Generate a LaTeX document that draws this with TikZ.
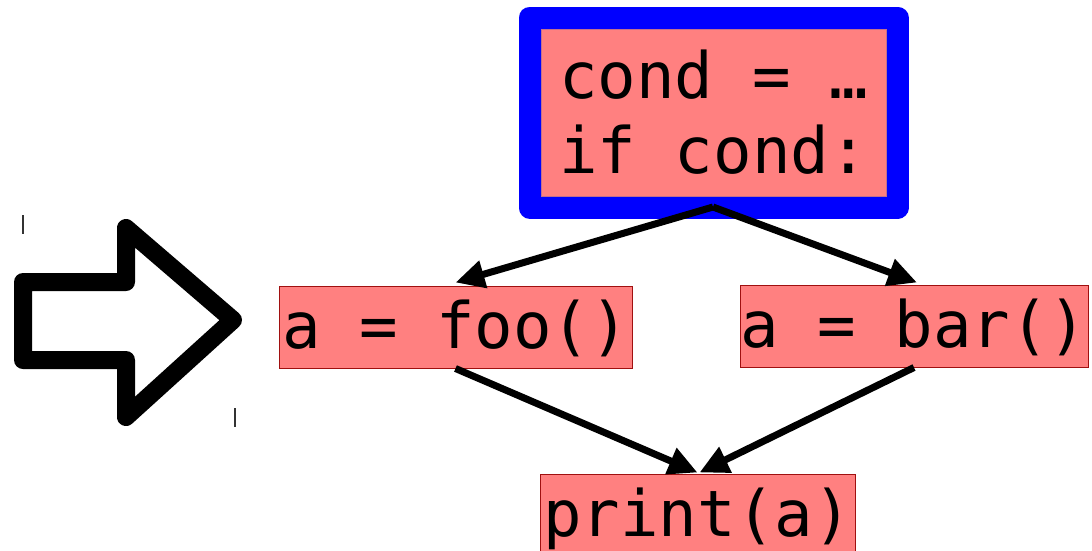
\documentclass[tikz,border=0pt]{standalone}
\usepackage{fontspec}
\newfontfamily\codefont{DejaVu Sans Mono}
\usetikzlibrary{arrows.meta}
\definecolor{boxpink}{HTML}{FF8080}
\definecolor{boxedge}{HTML}{A01010}
\definecolor{framepink}{HTML}{C07090}
\begin{document}
\begin{tikzpicture}[x=1pt,y=-1pt,
  code/.style={font=\codefont\fontsize{64}{75}\selectfont},
  stmt/.style={code, fill=boxpink, draw=boxedge, line width=1pt, inner sep=0pt,
    minimum height=82pt, text height=52pt, text depth=10pt},
  flow/.style={line width=7pt, -{Triangle[length=29pt,width=27pt]}},
]
\useasboundingbox (0,0) rectangle (1092,550);
\clip (0,0) rectangle (1092,550);

% condition block with its blue frame
\node[code, fill=boxpink, draw=framepink, line width=1pt, inner sep=0pt,
      minimum width=345pt, minimum height=167pt, align=left]
  (cond) at (713.5,112.5) {cond = …\\if cond:};
\draw[blue, line width=22pt, line join=round]
  ([shift={(-11,-11)}]cond.north west) rectangle ([shift={(11,11)}]cond.south east);
\coordinate (split) at (713,207);

% branches and join
\node[stmt, minimum width=353pt] (foo) at (455.5,327) {a = foo()};
\node[stmt, minimum width=348pt] (bar) at (914,326) {a = bar()};
\node[stmt, minimum width=315pt] (print) at (697.5,515) {print(a)};

\draw[flow] (split) -- ([yshift=3pt]foo.north);
\draw[flow] (split) -- ([xshift=3pt,yshift=2pt]bar.north);
\draw[flow] (foo.south) -- ([yshift=1pt]print.north);
\draw[flow] (bar.south) -- ([xshift=2pt,yshift=1pt]print.north);

% hollow block arrow on the left
\draw[line width=18pt, line join=round, fill=white]
  (23,282) -- (126,282) -- (126,228) -- (233,320) -- (126,417)
  -- (126,360) -- (23,360) -- cycle;
\draw[line width=1.3pt, black!80] (23,215) -- (23,234);
\draw[line width=1.3pt, black!80] (235,408) -- (235,427);
\end{tikzpicture}
\end{document}
